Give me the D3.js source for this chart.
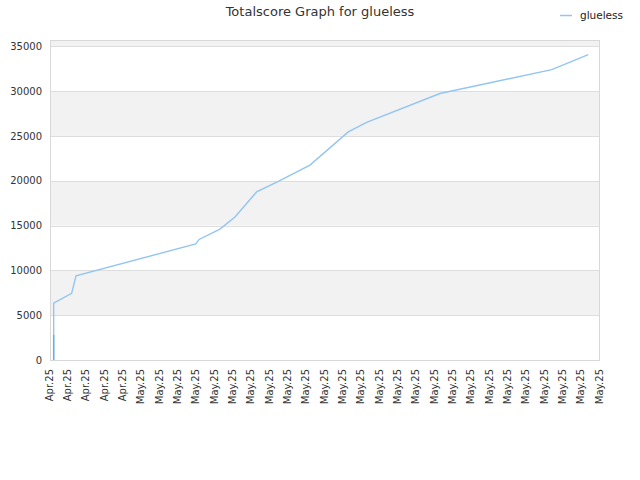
<!DOCTYPE html>
<html lang="en">
<head>
<meta charset="utf-8">
<title>Totalscore Graph for glueless</title>
<script src="https://d3js.org/d3.v7.min.js"></script>
<style>
  body { margin: 0; background: white; font-family: "DejaVu Sans", sans-serif; }
</style>
</head>
<body>
<script>
// tick labels along the x axis (one per tick, evenly spaced)
var tickLabels = ["Apr.25","Apr.25","Apr.25","Apr.25","Apr.25",
  "May.25","May.25","May.25","May.25","May.25","May.25","May.25","May.25","May.25","May.25",
  "May.25","May.25","May.25","May.25","May.25","May.25","May.25","May.25","May.25","May.25",
  "May.25","May.25","May.25","May.25","May.25","May.25"];
// x position in tick units, and total score
var seriesX = [0.2, 0.2, 1.18, 1.42, 7.95, 8.13, 9.27, 10.09, 11.27, 12.37, 14.18, 16.27, 17.27, 21.27, 27.37, 29.36];
var seriesY = [0, 6350, 7430, 9400, 12950, 13450, 14600, 15950, 18750, 19850, 21750, 25450, 26500, 29730, 32400, 34070];
// several points stacked on the first day (drawn darker where they overlap)
var firstDayX = [0.2, 0.2];
var firstDayY = [0, 2800];
var yTicks = [0, 5000, 10000, 15000, 20000, 25000, 30000, 35000];
var seriesName = "glueless";

var w = 640, h = 480;
var m = { left: 50, right: 40, top: 40, bottom: 120 };

var svg = d3.select("body").append("svg").attr("width", w).attr("height", h);

var x = d3.scaleLinear().domain([0, tickLabels.length - 1]).range([m.left, w - m.right]);
var y = d3.scaleLinear().domain([0, 35700]).range([h - m.bottom, m.top]);

// alternating bands
var bands = yTicks.map(function(t, i) {
  return [t, i < yTicks.length - 1 ? yTicks[i + 1] : y.domain()[1]];
});
svg.append("g").selectAll("rect").data(bands).enter().append("rect")
  .attr("x", m.left).attr("width", w - m.right - m.left)
  .attr("y", function(d) { return y(d[1]); })
  .attr("height", function(d) { return y(d[0]) - y(d[1]); })
  .attr("fill", function(d, i) { return i % 2 ? "#f2f2f2" : "#ffffff"; });

// grid lines
svg.append("g").selectAll("line").data(yTicks).enter().append("line")
  .attr("x1", m.left).attr("x2", w - m.right)
  .attr("y1", function(d) { return Math.round(y(d)) + 0.5; })
  .attr("y2", function(d) { return Math.round(y(d)) + 0.5; })
  .attr("stroke", "#dddddd");

// frame
svg.append("rect")
  .attr("x", m.left + 0.5).attr("y", m.top + 0.5)
  .attr("width", w - m.right - m.left - 1).attr("height", h - m.bottom - m.top)
  .attr("fill", "none").attr("stroke", "#d8d8d8");

// y axis
var yAxis = d3.axisLeft(y).tickValues(yTicks).tickSize(0).tickPadding(8).tickFormat(d3.format("d"));
var gy = svg.append("g").attr("transform", "translate(" + m.left + ",0)").call(yAxis);
gy.select(".domain").remove();
gy.selectAll("text").attr("fill", "#333").style("font-size", "10px").style("font-family", "DejaVu Sans");

// x axis
var xAxis = d3.axisBottom(x).tickValues(d3.range(tickLabels.length)).tickSize(0)
  .tickFormat(function(d) { return tickLabels[d]; });
var gx = svg.append("g").attr("transform", "translate(0," + (h - m.bottom) + ")").call(xAxis);
gx.select(".domain").remove();
gx.selectAll("text")
  .attr("fill", "#333").style("font-size", "10px").style("font-family", "DejaVu Sans")
  .attr("text-anchor", "end").attr("dy", "0.35em")
  .attr("transform", "translate(-1.5,9) rotate(-90)")
  .attr("x", 0).attr("y", 0);

// line
var line = d3.line().x(function(d) { return x(d[0]); }).y(function(d) { return y(d[1]); });
var pts = seriesX.map(function(d, i) { return [d, seriesY[i]]; });
svg.append("path").datum(pts)
  .attr("d", line).attr("fill", "none")
  .attr("stroke", "#92c5f2").attr("stroke-width", 1.4);
var firstPts = firstDayX.map(function(d, i) { return [d, firstDayY[i]]; });
svg.append("path").datum(firstPts)
  .attr("d", line).attr("fill", "none")
  .attr("stroke", "#68aaec").attr("stroke-width", 1.4);

// title
svg.append("text").attr("x", 320).attr("y", 16).attr("text-anchor", "middle")
  .attr("fill", "#333").style("font-size", "13px").text("Totalscore Graph for " + seriesName);

// legend
svg.append("line").attr("x1", 560).attr("x2", 572).attr("y1", 15.5).attr("y2", 15.5)
  .attr("stroke", "#92c5f2").attr("stroke-width", 1.5);
svg.append("text").attr("x", 580).attr("y", 19).attr("fill", "#222")
  .style("font-size", "10.5px").text(seriesName);
</script>
</body>
</html>
